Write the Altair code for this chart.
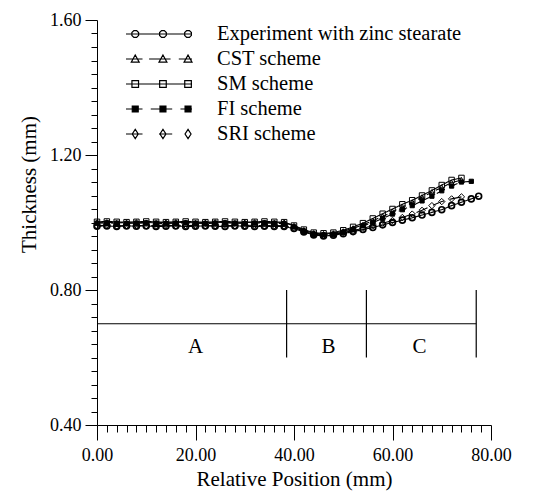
import altair as alt
import pandas as pd
import math

# ---------------- data ----------------
series_names = ["Experiment with zinc stearate", "CST scheme", "SM scheme", "FI scheme", "SRI scheme"]

flat_x = list(range(0, 37, 2))          # 0 .. 36
dip_x = list(range(38, 55, 2))          # 38 .. 54
rise_x_74 = list(range(56, 75, 2))      # 56 .. 74
rise_x_76 = list(range(56, 77, 2))      # 56 .. 76

exp_x = flat_x + dip_x + rise_x_76 + [77.5]
exp_y = [0.989, 0.990, 0.988, 0.990, 0.989, 0.990, 0.988, 0.989, 0.990, 0.988,
         0.989, 0.990, 0.989, 0.988, 0.990, 0.989, 0.988, 0.989, 0.988,
         0.988, 0.982, 0.972, 0.963, 0.960, 0.962, 0.967, 0.973, 0.979,
         0.985, 0.993, 1.000, 1.007, 1.014, 1.022, 1.030, 1.038, 1.050, 1.060, 1.070, 1.078]

cst_x = flat_x + dip_x + rise_x_74
cst_y = [1.000, 1.001, 0.999, 1.000, 1.001, 1.000, 0.999, 1.000, 1.001, 1.000,
         0.999, 1.000, 1.001, 1.000, 0.999, 1.000, 1.001, 1.000, 0.999,
         1.000, 0.990, 0.977, 0.968, 0.966, 0.968, 0.974, 0.983, 0.993,
         1.005, 1.018, 1.032, 1.046, 1.060, 1.075, 1.090, 1.104, 1.118, 1.126]

sm_x = flat_x + dip_x + rise_x_74
sm_y = [1.002, 1.003, 1.002, 1.001, 1.002, 1.003, 1.002, 1.001, 1.002, 1.003,
        1.002, 1.001, 1.002, 1.003, 1.002, 1.001, 1.002, 1.003, 1.002,
        1.001, 0.991, 0.979, 0.970, 0.968, 0.970, 0.977, 0.987, 0.998,
        1.012, 1.026, 1.040, 1.054, 1.066, 1.080, 1.095, 1.111, 1.126, 1.132]

fi_x = flat_x + dip_x + rise_x_76
fi_y = [0.998, 0.999, 0.998, 0.997, 0.998, 0.999, 0.998, 0.997, 0.998, 0.999,
        0.998, 0.997, 0.998, 0.999, 0.998, 0.997, 0.998, 0.999, 0.998,
        0.997, 0.987, 0.974, 0.965, 0.963, 0.965, 0.971, 0.979, 0.990,
        1.000, 1.012, 1.025, 1.038, 1.050, 1.064, 1.078, 1.094, 1.108, 1.120, 1.122]

sri_x = flat_x + dip_x + rise_x_74
sri_y = [0.991, 0.992, 0.990, 0.991, 0.992, 0.990, 0.991, 0.992, 0.990, 0.991,
         0.992, 0.990, 0.991, 0.992, 0.990, 0.991, 0.992, 0.990, 0.991,
         0.990, 0.985, 0.975, 0.966, 0.962, 0.964, 0.970, 0.976, 0.983,
         0.990, 0.998, 1.006, 1.015, 1.025, 1.036, 1.050, 1.062, 1.070, 1.076]

zone_bounds = [38.5, 54.7, 77.0]
zone_line_level = 0.70
zone_tick_low, zone_tick_high = 0.60, 0.80
zone_labels = ["A", "B", "C"]
zone_label_x = [20.0, 47.0, 65.5]
zone_label_y = 0.632

x_ticks = list(range(0, 81, 2))
y_ticks = [round(0.40 + 0.04 * i, 2) for i in range(31)]

# ---------------- frames ----------------
xs = [exp_x, cst_x, sm_x, fi_x, sri_x]
ys = [exp_y, cst_y, sm_y, fi_y, sri_y]
rows = []
for name, sx, sy in zip(series_names, xs, ys):
    for a, b in zip(sx, sy):
        rows.append({"series": name, "x": a, "y": b})
df = pd.DataFrame(rows)

FONT = "Liberation Serif"

xscale = alt.Scale(domain=[0, 80], nice=False, zero=False)
yscale = alt.Scale(domain=[0.4, 1.6], nice=False, zero=False)

xaxis = alt.Axis(
    values=x_ticks,
    labelExpr="datum.value % 20 === 0 ? format(datum.value, '.2f') : ''",
    tickSize={"condition": {"test": "datum.value % 20 === 0", "value": 15}, "value": 7},
    labelPadding=6, labelOverlap=False, labelBound=False, labelFlush=False,
    title="Relative Position (mm)", titleBaseline="alphabetic", titleY=60,
)
yaxis = alt.Axis(
    values=y_ticks,
    labelExpr="round(datum.value*100) % 40 === 0 ? format(datum.value, '.2f') : ''",
    tickSize={"condition": {"test": "round(datum.value*100) % 40 === 0", "value": 12}, "value": 6},
    labelPadding=4, labelOverlap=False, labelBound=False, labelFlush=False,
    title="Thickness (mm)", titleBaseline="alphabetic", titleX=-62, titleY=164,
)

X = alt.X("x:Q", scale=xscale, axis=xaxis)
Y = alt.Y("y:Q", scale=yscale, axis=yaxis)

styles = {
    "Experiment with zinc stearate": dict(dash=[1, 0], shape="circle", filled=False, size=34, sw=1.7),
    "CST scheme": dict(dash=[6, 4], shape="triangle-up", filled=False, size=34, sw=1.0),
    "SM scheme": dict(dash=[1, 0], shape="square", filled=False, size=30, sw=1.0),
    "FI scheme": dict(dash=[9, 5], shape="square", filled=True, size=18, sw=1.0),
    "SRI scheme": dict(dash=[12, 6], shape="diamond", filled=False, size=40, sw=1.0),
}

layers = []
for name in series_names:
    st = styles[name]
    base = alt.Chart(df).transform_filter(alt.datum.series == name)
    layers.append(base.mark_line(color="black", strokeWidth=1.1, strokeDash=st["dash"]).encode(x=X, y=Y))
    if st["filled"]:
        pm = base.mark_point(shape=st["shape"], filled=True, fill="black", stroke="black",
                             size=st["size"], strokeWidth=st["sw"], opacity=1)
    else:
        pm = base.mark_point(shape=st["shape"], filled=False, color="black",
                             size=st["size"], strokeWidth=st["sw"], opacity=1)
    layers.append(pm.encode(x=X, y=Y))

# zone annotations
hz = pd.DataFrame({"x": [0.0], "x2": [zone_bounds[-1]], "y": [zone_line_level]})
vz = pd.DataFrame({"x": zone_bounds, "y": [zone_tick_low] * 3, "y2": [zone_tick_high] * 3})
tz = pd.DataFrame({"x": zone_label_x, "y": [zone_label_y] * 3, "label": zone_labels})

layers.append(alt.Chart(hz).mark_rule(color="black", strokeWidth=1.2).encode(x=X, x2="x2:Q", y=Y))
layers.append(alt.Chart(vz).mark_rule(color="black", strokeWidth=1.2).encode(x=X, y=Y, y2="y2:Q"))
layers.append(alt.Chart(tz).mark_text(font=FONT, fontSize=21, color="black").encode(x=X, y=Y, text="label:N"))

# ---------------- legend (symbol = line + three markers) ----------------
def seg(a, b):
    return f"M{a:.3f},0L{b:.3f},0"

def octagon(cx, r=0.11):
    pts = [(cx + r * math.cos(math.radians(22.5 + 45 * k)), r * math.sin(math.radians(22.5 + 45 * k))) for k in range(8)]
    return "M" + "L".join(f"{px:.3f},{py:.3f}" for px, py in pts) + "Z"

def tri(cx, r=0.12):
    return f"M{cx:.3f},{-r:.3f}L{cx + r:.3f},{0.8 * r:.3f}L{cx - r:.3f},{0.8 * r:.3f}Z"

def sq(cx, r=0.1):
    return f"M{cx - r:.3f},{-r:.3f}L{cx + r:.3f},{-r:.3f}L{cx + r:.3f},{r:.3f}L{cx - r:.3f},{r:.3f}Z"

def dia(cx, r=0.14):
    return f"M{cx:.3f},{-r:.3f}L{cx + 0.65 * r:.3f},0L{cx:.3f},{r:.3f}L{cx - 0.65 * r:.3f},0Z"

mk = [-0.72, 0.12, 0.88]
legend_paths = [
    seg(-1, 1) + "".join(octagon(c) for c in mk),
    seg(-1, -0.5) + seg(-0.3, 0.35) + seg(0.6, 1) + "".join(tri(c) for c in mk),
    seg(-1, 1) + "".join(sq(c) for c in mk),
    seg(-1, -0.5) + seg(-0.25, 0.4) + seg(0.65, 1) + "".join(sq(c, 0.09) for c in mk),
    seg(-1, -0.5) + seg(0.0, 0.4) + "".join(dia(c) for c in mk),
]
legend_fills = ["transparent", "transparent", "transparent", "black", "transparent"]
legend_strokes = ["black"] * 5

leg_df = pd.DataFrame({"series": series_names})
legend = alt.Legend(
    title=None, orient="none", legendX=28, legendY=5,
    symbolSize=4356, symbolStrokeWidth=1.2,
    labelFont=FONT, labelFontSize=20.5, labelColor="black", labelOffset=24,
    rowPadding=4, labelLimit=400, padding=0, clipHeight=18,
)
leg_layer = alt.Chart(leg_df).transform_filter("false").mark_point(
    filled=True, opacity=1
).encode(
    shape=alt.Shape("series:N", scale=alt.Scale(domain=series_names, range=legend_paths), legend=legend),
    fill=alt.Fill("series:N", scale=alt.Scale(domain=series_names, range=legend_fills), legend=legend),
    stroke=alt.Stroke("series:N", scale=alt.Scale(domain=series_names, range=legend_strokes), legend=legend),
)
layers.append(leg_layer)

chart = alt.layer(*layers).properties(
    width=394, height=405,
    autosize=alt.AutoSizeParams(type="none"),
    padding={"left": 97, "top": 20, "right": 48, "bottom": 67},
    background="white",
).configure_view(stroke=None).configure_axis(
    grid=False, domainColor="black", domainWidth=1, tickColor="black", tickWidth=1,
    labelFont=FONT, labelFontSize=18, labelColor="black",
    titleFont=FONT, titleFontSize=21, titleFontWeight="normal", titleColor="black",
)

chart.save("out.html", embed_options={"renderer": "svg", "actions": False})
